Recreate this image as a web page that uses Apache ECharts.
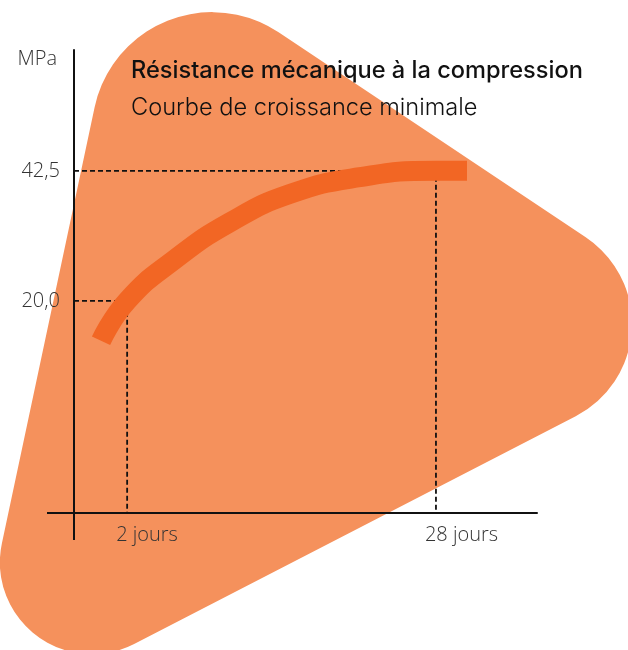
<!DOCTYPE html>
<html>
<head>
<meta charset="utf-8">
<script src="https://cdn.jsdelivr.net/npm/echarts@6/dist/echarts.min.js"></script>
<style>
html,body{margin:0;padding:0;background:#fff;}
#main{width:628px;height:650px;}
</style>
</head>
<body>
<div id="main"></div>
<script>
var days = [1.6, 2, 3.01, 4.82, 8.05, 14.6, 28, 36.5];
var mpa = [13.1, 20, 27.2, 33.6, 38.5, 41.4, 42.5, 42.5];
// repères en pointillés
var guideDays = [2, 28];
var guideMpa = [20, 42.5];
// bornes des axes
var xMin = 1.27, xMax = 66.4;
var yMin = -16.7, yMax = 63.4;

/*forme de fond : triangle aux coins arrondis (sommets + rayons)*/
var blobPts = [[131.4, -65.9], [732.6, 335.2], [-38.4, 733]];
var blobRad = [120, 104, 92];

echarts.graphic.registerShape('blob', echarts.graphic.extendShape({
    shape: {},
    buildPath: function (ctx) {
        var n = blobPts.length;
        for (var i = 0; i < n; i++) {
            var v = blobPts[i], p = blobPts[(i + n - 1) % n], q = blobPts[(i + 1) % n];
            var a = [p[0] - v[0], p[1] - v[1]], b = [q[0] - v[0], q[1] - v[1]];
            var la = Math.hypot(a[0], a[1]), lb = Math.hypot(b[0], b[1]);
            a = [a[0] / la, a[1] / la];
            b = [b[0] / lb, b[1] / lb];
            var half = Math.acos(a[0] * b[0] + a[1] * b[1]) / 2;
            var r = blobRad[i];
            var d = r / Math.tan(half);
            var bis = [a[0] + b[0], a[1] + b[1]];
            var lbis = Math.hypot(bis[0], bis[1]);
            var k = r / Math.sin(half) / lbis;
            var c = [v[0] + bis[0] * k, v[1] + bis[1] * k];
            var t1 = [v[0] + a[0] * d, v[1] + a[1] * d];
            var t2 = [v[0] + b[0] * d, v[1] + b[1] * d];
            var s = Math.atan2(t1[1] - c[1], t1[0] - c[0]);
            var e = Math.atan2(t2[1] - c[1], t2[0] - c[0]);
            if (e < s) e += Math.PI * 2;
            if (i === 0) ctx.moveTo(t1[0], t1[1]); else ctx.lineTo(t1[0], t1[1]);
            ctx.arc(c[0], c[1], r, s, e, false);
        }
        ctx.closePath();
    }
}));

var myChart = echarts.init(document.getElementById('main'));

var curve = days.map(function (d, i) {
    return [d, mpa[i]];
});

var guides = guideDays.map(function (d, i) {
    return {
        type: 'line',
        z: 3,
        symbol: 'none',
        silent: true,
        data: [[xMin, guideMpa[i]], [d, guideMpa[i]], [d, yMin]],
        lineStyle: {color: '#111', width: 1.8, type: [5, 3]}
    };
});

var axisLine = {show: true, onZero: false, lineStyle: {color: '#111', width: 2}};

option = {
    animation: false,
    backgroundColor: '#fff',
    title: [
        {
            text: 'Résistance mécanique à la compression',
            left: 131, top: 59, padding: 0,
            textStyle: {fontFamily: 'Inter', fontWeight: 500, fontSize: 23.6, lineHeight: 24, color: '#111'}
        },
        {
            text: 'Courbe de croissance minimale',
            left: 131, top: 96, padding: 0,
            textStyle: {fontFamily: 'Inter', fontWeight: 300, fontSize: 23.6, lineHeight: 24, color: '#111'}
        }
    ],
    graphic: [{
        type: 'blob',
        z: -10,
        silent: true,
        style: {fill: '#F5915C'}
    }],
    grid: {left: 74, right: 91, top: 50, bottom: 137},
    xAxis: {
        type: 'log',
        min: xMin,
        max: xMax,
        axisLine: axisLine,
        axisTick: {show: true, customValues: [xMin], length: 27, lineStyle: {color: '#111', width: 2}},
        splitLine: {show: false},
        axisLabel: {
            customValues: guideDays,
            margin: 12,
            align: 'left',
            padding: [0, 0, 0, -11],
            fontFamily: 'Open Sans',
            fontWeight: 300,
            fontSize: 20,
            color: '#333',
            formatter: function (v) {
                return Math.round(v) + ' jours';
            }
        }
    },
    yAxis: {
        type: 'value',
        min: yMin,
        max: yMax,
        name: 'MPa',
        nameLocation: 'end',
        nameGap: -9.5,
        nameTextStyle: {
            align: 'right', verticalAlign: 'middle', padding: [0, 17, 0, 0],
            fontFamily: 'Open Sans', fontWeight: 300, fontSize: 20, color: '#333'
        },
        axisLine: axisLine,
        axisTick: {show: true, customValues: [yMin], length: 27, lineStyle: {color: '#111', width: 2}},
        splitLine: {show: false},
        axisLabel: {
            customValues: guideMpa,
            margin: 14,
            fontFamily: 'Open Sans',
            fontWeight: 300,
            fontSize: 20,
            color: '#333',
            formatter: function (v) {
                return v.toFixed(1).replace('.', ',');
            }
        }
    },
    series: guides.concat([{
        type: 'line',
        z: 5,
        symbol: 'none',
        silent: true,
        smooth: 0.5,
        smoothConstraint: false,
        data: curve,
        lineStyle: {color: '#F26624', width: 20, cap: 'butt'}
    }])
};
myChart.setOption(option);
</script>
</body>
</html>
